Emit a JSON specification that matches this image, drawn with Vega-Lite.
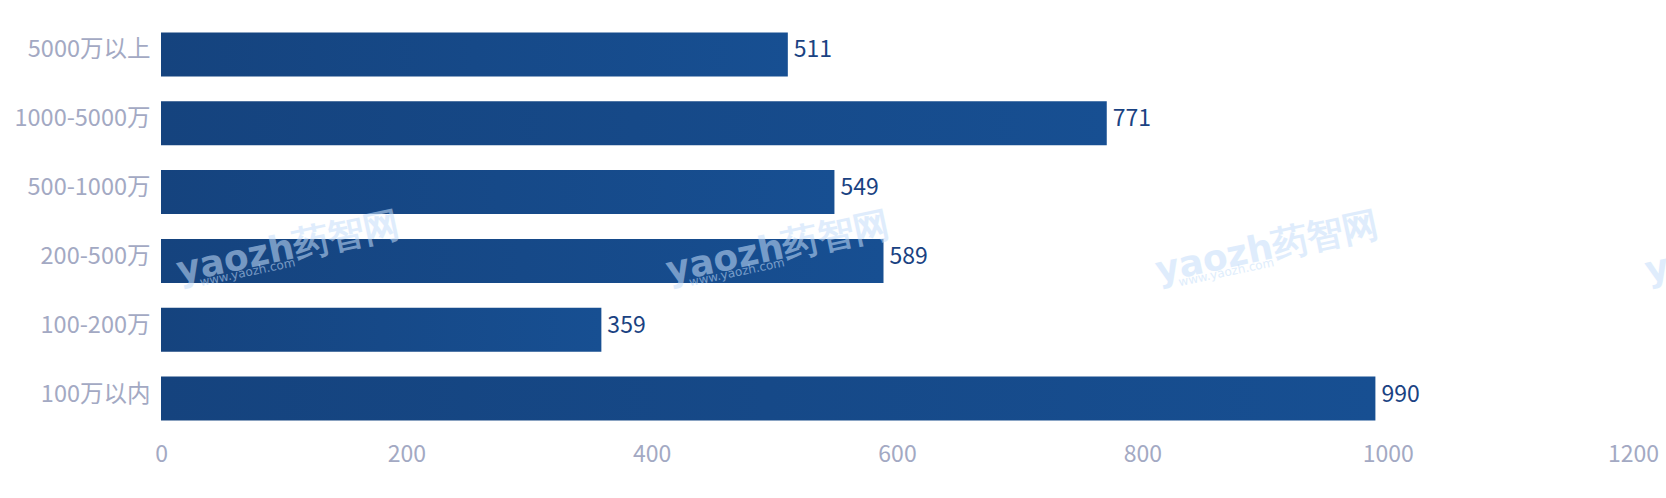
{
  "$schema": "https://vega.github.io/schema/vega-lite/v6.json",
  "autosize": {"type": "none"},
  "padding": {"left": 161, "top": 20, "right": 33, "bottom": 65},
  "width": 1472,
  "height": 413,
  "background": "#ffffff",
  "config": {"view": {"stroke": null}, "font": "Noto Sans CJK SC"},
  "datasets": {
    "bars": [
      {"range": "5000万以上", "count": 511},
      {"range": "1000-5000万", "count": 771},
      {"range": "500-1000万", "count": 549},
      {"range": "200-500万", "count": 589},
      {"range": "100-200万", "count": 359},
      {"range": "100万以内", "count": 990}
    ],
    "marks": [
      {"range": "200-500万", "pos": 106},
      {"range": "200-500万", "pos": 505},
      {"range": "200-500万", "pos": 904},
      {"range": "200-500万", "pos": 1303}
    ]
  },
  "encoding": {
    "y": {
      "field": "range", "type": "nominal",
      "sort": ["5000万以上", "1000-5000万", "500-1000万", "200-500万", "100-200万", "100万以内"],
      "scale": {"paddingInner": 0.36, "paddingOuter": 0.18},
      "axis": {"title": null, "domain": false, "ticks": false, "labelPadding": 11, "labelOffset": -4, "labelFontSize": 23.5, "labelColor": "#a3a9c3", "labelFont": "Noto Sans CJK SC"}
    }
  },
  "layer": [
    {
      "data": {"name": "bars"},
      "mark": {"type": "bar", "color": {"gradient": "linear", "x1": 0, "x2": 1, "y1": 0, "y2": 0, "stops": [{"offset": 0, "color": "#15437e"}, {"offset": 1, "color": "#174f92"}]}},
      "encoding": {
        "x": {
          "field": "count", "type": "quantitative",
          "scale": {"domain": [0, 1200], "nice": false},
          "axis": {"title": null, "values": [0, 200, 400, 600, 800, 1000, 1200], "format": "d", "domain": false, "ticks": false, "grid": false, "labelPadding": 10, "labelFontSize": 23, "labelColor": "#a3a9c3", "labelFont": "Noto Sans CJK SC", "labelFlush": false}
        }
      }
    },
    {
      "data": {"name": "bars"},
      "mark": {"type": "text", "align": "left", "baseline": "middle", "dx": 6, "dy": -4, "fontSize": 23, "color": "#1a4282", "font": "Noto Sans CJK SC"},
      "encoding": {
        "x": {"field": "count", "type": "quantitative"},
        "text": {"field": "count", "type": "quantitative"}
      }
    },
    {
      "data": {"name": "marks"},
      "mark": {"type": "text", "align": "center", "baseline": "middle", "dy": -13, "angle": -12, "fontSize": 36, "fontWeight": "bold", "color": "#c5defa", "opacity": 0.55, "font": "DejaVu Sans", "clip": false},
      "encoding": {
        "x": {"field": "pos", "type": "quantitative"},
        "text": {"value": "yaozh药智网"}
      }
    },
    {
      "data": {"name": "marks"},
      "mark": {"type": "text", "align": "center", "baseline": "middle", "dx": -45, "dy": 2, "angle": -12, "fontSize": 12, "color": "#c5defa", "opacity": 0.55, "font": "DejaVu Sans"},
      "encoding": {
        "x": {"field": "pos", "type": "quantitative"},
        "text": {"value": "www.yaozh.com"}
      }
    }
  ]
}
